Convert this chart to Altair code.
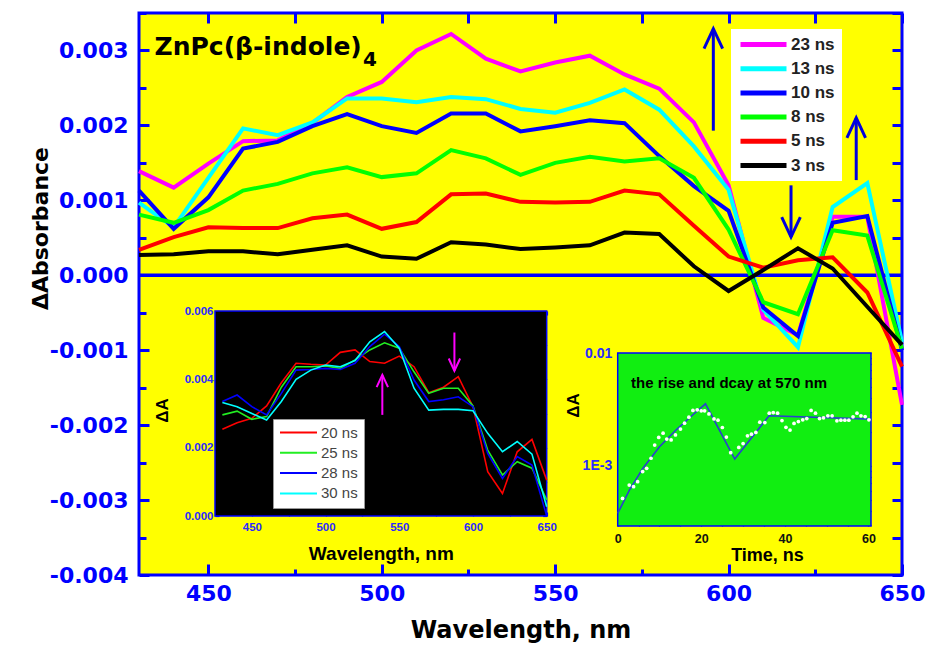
import altair as alt
import pandas as pd

# ---------------- main spectra: ΔAbsorbance vs wavelength ----------------
wavelength = [430, 440, 450, 460, 470, 480, 490, 500, 510, 520, 530, 540,
              550, 560, 570, 580, 590, 600, 610, 620, 630, 640, 650]
da_23ns = [1.39e-3, 1.17e-3, 1.49e-3, 1.79e-3, 1.80e-3, 2.03e-3, 2.38e-3, 2.58e-3, 3.00e-3, 3.22e-3, 2.89e-3, 2.72e-3,
           2.84e-3, 2.93e-3, 2.68e-3, 2.49e-3, 2.04e-3, 1.20e-3, -0.57e-3, -0.80e-3, 0.78e-3, 0.78e-3, -1.73e-3]
da_13ns = [0.97e-3, 0.64e-3, 1.30e-3, 1.96e-3, 1.87e-3, 2.04e-3, 2.36e-3, 2.36e-3, 2.31e-3, 2.38e-3, 2.35e-3, 2.22e-3,
           2.17e-3, 2.30e-3, 2.48e-3, 2.21e-3, 1.72e-3, 1.14e-3, -0.46e-3, -0.96e-3, 0.91e-3, 1.23e-3, -0.89e-3]
da_10ns = [1.13e-3, 0.62e-3, 1.04e-3, 1.69e-3, 1.78e-3, 1.99e-3, 2.15e-3, 1.99e-3, 1.90e-3, 2.16e-3, 2.16e-3, 1.92e-3,
           1.99e-3, 2.07e-3, 2.03e-3, 1.59e-3, 1.19e-3, 0.86e-3, -0.43e-3, -0.81e-3, 0.70e-3, 0.79e-3, -1.00e-3]
da_8ns = [0.81e-3, 0.70e-3, 0.87e-3, 1.13e-3, 1.22e-3, 1.36e-3, 1.44e-3, 1.31e-3, 1.36e-3, 1.67e-3, 1.56e-3, 1.34e-3,
          1.50e-3, 1.58e-3, 1.52e-3, 1.56e-3, 1.30e-3, 0.61e-3, -0.36e-3, -0.52e-3, 0.60e-3, 0.53e-3, -0.98e-3]
da_5ns = [0.34e-3, 0.51e-3, 0.64e-3, 0.63e-3, 0.63e-3, 0.76e-3, 0.81e-3, 0.62e-3, 0.71e-3, 1.08e-3, 1.09e-3, 0.98e-3,
          0.97e-3, 0.98e-3, 1.13e-3, 1.08e-3, 0.66e-3, 0.25e-3, 0.10e-3, 0.20e-3, 0.24e-3, -0.23e-3, -1.22e-3]
da_3ns = [0.27e-3, 0.28e-3, 0.32e-3, 0.32e-3, 0.28e-3, 0.34e-3, 0.40e-3, 0.25e-3, 0.22e-3, 0.44e-3, 0.41e-3, 0.35e-3,
          0.37e-3, 0.40e-3, 0.57e-3, 0.55e-3, 0.12e-3, -0.21e-3, 0.07e-3, 0.36e-3, 0.09e-3, -0.42e-3, -0.93e-3]
series_names = ['23 ns', '13 ns', '10 ns', '8 ns', '5 ns', '3 ns']
series_values = [da_23ns, da_13ns, da_10ns, da_8ns, da_5ns, da_3ns]
series_colors = ['#ff00ff', '#00ffff', '#0000ff', '#00ff00', '#ff0000', '#000000']

# arrows in the main panel
arrow_nm = [595.6, 618.0, 636.8]
arrow_tail = [1.93e-3, 1.20e-3, 1.27e-3]
arrow_head = [3.29e-3, 0.51e-3, 2.10e-3]
arrow_dir = ['up', 'down', 'up']

# ---------------- inset 1: later spectra ----------------
inset_wavelength = [430, 440, 450, 460, 470, 480, 490, 500, 510, 520, 530, 540,
                    550, 560, 570, 580, 590, 600, 610, 620, 630, 640, 650]
da_20ns = [2.54e-3, 2.73e-3, 2.86e-3, 3.22e-3, 3.90e-3, 4.47e-3, 4.44e-3, 4.42e-3, 4.79e-3, 4.86e-3, 4.52e-3, 4.47e-3,
           4.68e-3, 4.37e-3, 3.61e-3, 3.77e-3, 4.08e-3, 3.20e-3, 1.30e-3, 0.66e-3, 1.88e-3, 2.24e-3, 1.05e-3]
da_25ns = [2.96e-3, 3.07e-3, 2.83e-3, 2.91e-3, 3.77e-3, 4.37e-3, 4.37e-3, 4.39e-3, 4.32e-3, 4.57e-3, 4.86e-3, 5.07e-3,
           4.91e-3, 4.22e-3, 3.59e-3, 3.74e-3, 3.74e-3, 3.22e-3, 1.93e-3, 1.20e-3, 1.59e-3, 1.40e-3, 0.47e-3]
da_28ns = [3.35e-3, 3.54e-3, 3.20e-3, 2.96e-3, 3.59e-3, 4.27e-3, 4.29e-3, 4.32e-3, 4.29e-3, 4.47e-3, 4.96e-3, 5.32e-3,
           4.96e-3, 3.98e-3, 3.35e-3, 3.40e-3, 3.49e-3, 3.20e-3, 1.83e-3, 1.10e-3, 1.74e-3, 1.49e-3, 0.00e-3]
da_30ns = [3.32e-3, 3.20e-3, 3.00e-3, 2.81e-3, 3.35e-3, 4.00e-3, 4.27e-3, 4.42e-3, 4.37e-3, 4.55e-3, 5.10e-3, 5.40e-3,
           4.91e-3, 3.74e-3, 3.10e-3, 3.12e-3, 3.12e-3, 3.08e-3, 2.42e-3, 1.88e-3, 2.18e-3, 1.81e-3, 0.27e-3]
inset_names = ['20 ns', '25 ns', '28 ns', '30 ns']
inset_values = [da_20ns, da_25ns, da_28ns, da_30ns]
inset_colors = ['#ff0000', '#22ee22', '#0000ff', '#00ffff']
inset_arrow_nm = [538.5, 587.4]
inset_arrow_tail = [2.96e-3, 5.37e-3]
inset_arrow_head = [4.13e-3, 4.25e-3]
inset_arrow_dir = ['up', 'down']

# ---------------- inset 2: kinetics at 570 nm ----------------
fit_time = [0, 2.8, 6.0, 10.0, 14.0, 18.0, 21.0, 28.0, 36.2, 60.6]
fit_da = [3.8e-4, 6.1e-4, 9.5e-4, 1.48e-3, 2.09e-3, 2.84e-3, 3.55e-3, 1.15e-3, 2.78e-3, 2.60e-3]
pt_time = [1.16, 2.76, 3.8, 4.77, 5.97, 6.93, 7.97, 8.85, 9.82, 10.86, 11.74, 12.78, 13.82, 15.02, 15.99,
           17.03, 17.99, 19.03, 19.99, 20.79, 21.83, 23.04, 24.0, 25.04, 26.0, 27.04, 28.97, 30.0, 31.05,
           32.0, 33.05, 34.0, 35.2, 36.26, 37.22, 38.26, 39.3, 40.26, 41.23, 42.19, 43.23, 44.27, 45.23,
           46.27, 47.32, 48.28, 49.24, 50.28, 51.3, 52.44, 53.4, 54.35, 55.3, 56.3, 57.25, 58.2, 59.2, 60.1]
pt_da = [5.16e-4, 6.78e-4, 6.56e-4, 7.26e-4, 8.91e-4, 9.53e-4, 1.17e-3, 1.53e-3, 1.79e-3, 1.95e-3, 1.73e-3,
         1.70e-3, 1.88e-3, 2.12e-3, 2.39e-3, 2.70e-3, 3.10e-3, 3.14e-3, 3.08e-3, 3.08e-3, 2.89e-3, 2.61e-3,
         2.54e-3, 2.19e-3, 1.80e-3, 1.31e-3, 1.46e-3, 1.58e-3, 1.85e-3, 1.91e-3, 1.98e-3, 2.44e-3, 2.42e-3,
         2.93e-3, 2.97e-3, 2.93e-3, 2.52e-3, 2.20e-3, 2.08e-3, 2.38e-3, 2.47e-3, 2.56e-3, 2.63e-3, 3.10e-3,
         2.93e-3, 2.63e-3, 2.67e-3, 2.78e-3, 2.78e-3, 2.51e-3, 2.54e-3, 2.54e-3, 2.54e-3, 2.72e-3, 2.93e-3,
         2.78e-3, 2.74e-3, 2.56e-3]

# ---------------- tables ----------------
df_main = pd.DataFrame([{'nm': w, 'dA': v, 'series': n}
                        for n, vals in zip(series_names, series_values)
                        for w, v in zip(wavelength, vals)])
df_arrows = pd.DataFrame({'nm': arrow_nm, 'tail': arrow_tail, 'head': arrow_head, 'dir': arrow_dir})
df_title = pd.DataFrame({'nm': [434.5], 'dA': [2.933e-3], 'text': ['ZnPc(\u03b2-indole)']})
df_sub = pd.DataFrame({'nm': [494.6], 'dA': [2.79e-3], 'text': ['4']})

df_in1 = pd.DataFrame([{'nm': w, 'dA': v, 'series': n}
                       for n, vals in zip(inset_names, inset_values)
                       for w, v in zip(inset_wavelength, vals)])
df_in1_arrows = pd.DataFrame({'nm': inset_arrow_nm, 'tail': inset_arrow_tail,
                              'head': inset_arrow_head, 'dir': inset_arrow_dir})
df_box1 = pd.DataFrame({'x0': [425], 'x1': [650], 'y0': [0.0], 'y1': [0.006]})

df_fit = pd.DataFrame({'t': fit_time, 'dA': fit_da})
df_pts = pd.DataFrame({'t': pt_time, 'dA': pt_da})
df_box2 = pd.DataFrame({'x0': [0.0], 'x1': [60.6], 'y0': [2.94e-4], 'y1': [0.01]})
df_note = pd.DataFrame({'t': [3.2], 'dA': [5.45e-3], 'text': ['the rise and dcay at 570 nm']})

# ---------------- layout constants ----------------
BLUE = '#0000ff'
W, H = 763, 562
UP = 'M-1,2.15L0,0L1,2.15'
DOWN = 'M-1,-2.15L0,0L1,-2.15'
minus_fix = "replace(format(datum.value, '.3f'), '\u2212', '-')"


def ticks_only(orient, values, size, offset, color=BLUE, width=3):
    return alt.Axis(orient=orient, values=values, tickSize=size, offset=offset, tickWidth=width,
                    tickColor=color, labels=False, domain=False, grid=False, title=None)


# ================= main panel =================
xs_main = alt.Scale(domain=[430, 650], nice=False, zero=False)
ys_main = alt.Scale(domain=[-0.004, 0.0035], nice=False, zero=False)
x_major = [450, 500, 550, 600, 650]
x_minor = [475, 525, 575, 625]
x_all = [450, 475, 500, 525, 550, 575, 600, 625, 650]
y_major = [-0.004, -0.003, -0.002, -0.001, 0.0, 0.001, 0.002, 0.003]
y_minor = [-0.0035, -0.0025, -0.0015, -0.0005, 0.0005, 0.0015, 0.0025, 0.0035]
y_all = sorted(y_major + y_minor)

lines_main = alt.Chart(df_main).mark_line(strokeWidth=4).encode(
    x=alt.X('nm:Q', scale=xs_main, axis=alt.Axis(
        orient='bottom', values=x_major, tickSize=11, offset=-11, tickWidth=3, tickColor=BLUE,
        domain=False, grid=False, labelFlush=False, labelOverlap=False, labelPadding=8,
        labelFont='DejaVu Sans', labelFontWeight='bold', labelFontSize=22, labelColor=BLUE,
        title='Wavelength, nm', titleFont='DejaVu Sans', titleFontWeight='bold', titleFontSize=24,
        titleColor='black', titleY=66, titleBaseline='middle')),
    y=alt.Y('dA:Q', scale=ys_main, axis=alt.Axis(
        orient='left', values=y_major, tickSize=10, offset=-10, tickWidth=3, tickColor=BLUE,
        domain=False, grid=False, labelFlush=False, labelOverlap=False, labelPadding=11,
        labelExpr=minus_fix, labelFont='DejaVu Sans', labelFontWeight='bold', labelFontSize=22,
        labelColor=BLUE, title='\u0394Absorbance', titleFont='DejaVu Sans', titleFontWeight='bold',
        titleFontSize=22, titleColor='black', titleX=-109, titleY=215, titleBaseline='middle',
        titleAngle=270)),
    color=alt.Color('series:N', title=None,
                    scale=alt.Scale(domain=series_names, range=series_colors),
                    legend=alt.Legend(orient='none', legendX=592, legendY=16, fillColor='white',
                                      padding=7, symbolType='stroke', symbolSize=2116,
                                      symbolStrokeWidth=5, clipHeight=17, labelFont='Liberation Sans',
                                      labelFontWeight='bold', labelFontSize=17, labelColor='#222222',
                                      rowPadding=6.2, labelOffset=2)),
)

ghost_a = alt.Chart(df_main).mark_point(opacity=0).encode(
    x=alt.X('nm:Q', scale=xs_main, axis=ticks_only('bottom', x_minor, 6, -6)),
    y=alt.Y('dA:Q', scale=ys_main, axis=ticks_only('left', y_minor, 7, -7)),
)
ghost_b = alt.Chart(df_main).mark_point(opacity=0).encode(
    x=alt.X('nm:Q', scale=xs_main, axis=ticks_only('top', x_all, 10, -10)),
    y=alt.Y('dA:Q', scale=ys_main, axis=ticks_only('right', y_all, 10, -10)),
)

zero_line = alt.Chart(df_title).mark_rule(color=BLUE, strokeWidth=3.5).encode(
    y=alt.YDatum(0, scale=ys_main, axis=None))

shafts = alt.Chart(df_arrows).mark_rule(color='#0000dd', strokeWidth=3).encode(
    x=alt.X('nm:Q', scale=xs_main, axis=None),
    y=alt.Y('tail:Q', scale=ys_main, axis=None), y2='head:Q')
heads_up = alt.Chart(df_arrows).transform_filter("datum.dir == 'up'").mark_point(
    shape=UP, filled=False, size=346, strokeWidth=3, color='#0000dd', opacity=1).encode(
    x=alt.X('nm:Q', scale=xs_main, axis=None), y=alt.Y('head:Q', scale=ys_main, axis=None))
heads_down = alt.Chart(df_arrows).transform_filter("datum.dir == 'down'").mark_point(
    shape=DOWN, filled=False, size=346, strokeWidth=3, color='#0000dd', opacity=1).encode(
    x=alt.X('nm:Q', scale=xs_main, axis=None), y=alt.Y('head:Q', scale=ys_main, axis=None))

title_text = alt.Chart(df_title).mark_text(
    align='left', baseline='alphabetic', font='DejaVu Sans', fontWeight='bold', fontSize=25,
    color='black').encode(
    x=alt.X('nm:Q', scale=xs_main, axis=None), y=alt.Y('dA:Q', scale=ys_main, axis=None), text='text:N')
sub_text = alt.Chart(df_sub).mark_text(
    align='left', baseline='alphabetic', font='DejaVu Sans', fontWeight='bold', fontSize=20,
    color='black').encode(
    x=alt.X('nm:Q', scale=xs_main, axis=None), y=alt.Y('dA:Q', scale=ys_main, axis=None), text='text:N')

main = alt.layer(zero_line, lines_main, ghost_a, ghost_b, shafts, heads_up, heads_down,
                 title_text, sub_text).resolve_axis(x='independent', y='independent')

# ================= inset 1 =================
L1, R1, T1, B1 = 76, 407.7, 298, 503
xs_in1 = alt.Scale(domain=[425, 650], range=[L1, R1], nice=False, zero=False)
ys_in1 = alt.Scale(domain=[0, 0.006], range=[B1, T1], nice=False, zero=False)
in1_x = [450, 475, 500, 525, 550, 575, 600, 625, 650]
in1_y = [0.0, 0.001, 0.002, 0.003, 0.004, 0.005, 0.006]
TK1 = 4

box1 = alt.Chart(df_box1).mark_rect(fill='black', stroke=BLUE, strokeWidth=1.5).encode(
    x=alt.X('x0:Q', scale=xs_in1, axis=None), x2='x1:Q',
    y=alt.Y('y0:Q', scale=ys_in1, axis=None), y2='y1:Q')

lines_in1 = alt.Chart(df_in1).mark_line(strokeWidth=1.6).encode(
    x=alt.X('nm:Q', scale=xs_in1, axis=alt.Axis(
        orient='bottom', values=in1_x, tickSize=TK1, offset=B1 - TK1 - H, tickWidth=1.2, tickColor=BLUE,
        domain=False, grid=False, labelFlush=False, labelOverlap=False, labelPadding=5,
        labelExpr="datum.value % 50 == 0 ? datum.label : ''",
        labelFont='Liberation Sans', labelFontWeight='bold', labelFontSize=11.5, labelColor='#2a2aff',
        title='Wavelength, nm', titleFont='Liberation Sans', titleFontWeight='bold', titleFontSize=19,
        titleColor='black', titleY=41, titleBaseline='middle')),
    y=alt.Y('dA:Q', scale=ys_in1, axis=alt.Axis(
        orient='left', values=in1_y, tickSize=TK1, offset=-(L1 + TK1), tickWidth=1.2, tickColor=BLUE,
        domain=False, grid=False, labelFlush=False, labelOverlap=False, labelPadding=2,
        labelExpr="round(datum.value * 1000) % 2 == 0 ? format(datum.value, '.3f') : ''",
        labelFont='Liberation Sans', labelFontWeight='bold', labelFontSize=11.5, labelColor='#2a2aff',
        title='\u0394A', titleFont='Liberation Sans', titleFontWeight='bold', titleFontSize=17,
        titleColor='black', titleX=-57, titleY=397, titleBaseline='middle', titleAngle=270)),
    color=alt.Color('series:N', title=None,
                    scale=alt.Scale(domain=inset_names, range=inset_colors),
                    legend=alt.Legend(orient='none', legendX=134, legendY=406, fillColor='white',
                                      strokeColor='#999999', padding=6, symbolType='stroke',
                                      symbolSize=1369, symbolStrokeWidth=2, clipHeight=15,
                                      labelFont='Liberation Sans', labelFontSize=15,
                                      labelColor='#444444', rowPadding=4.3, labelOffset=3)),
)
ghost_in1 = alt.Chart(df_in1).mark_point(opacity=0).encode(
    x=alt.X('nm:Q', scale=xs_in1, axis=ticks_only('top', in1_x, TK1, -(T1 + TK1), width=1.2)),
    y=alt.Y('dA:Q', scale=ys_in1, axis=ticks_only('right', in1_y, TK1, R1 - TK1 - W, width=1.2)),
)
shafts1 = alt.Chart(df_in1_arrows).mark_rule(color='#ff00ff', strokeWidth=2).encode(
    x=alt.X('nm:Q', scale=xs_in1, axis=None),
    y=alt.Y('tail:Q', scale=ys_in1, axis=None), y2='head:Q')
heads1_up = alt.Chart(df_in1_arrows).transform_filter("datum.dir == 'up'").mark_point(
    shape=UP, filled=False, size=130, strokeWidth=2, color='#ff00ff', opacity=1).encode(
    x=alt.X('nm:Q', scale=xs_in1, axis=None), y=alt.Y('head:Q', scale=ys_in1, axis=None))
heads1_down = alt.Chart(df_in1_arrows).transform_filter("datum.dir == 'down'").mark_point(
    shape=DOWN, filled=False, size=130, strokeWidth=2, color='#ff00ff', opacity=1).encode(
    x=alt.X('nm:Q', scale=xs_in1, axis=None), y=alt.Y('head:Q', scale=ys_in1, axis=None))

inset1 = alt.layer(box1, lines_in1, ghost_in1, shafts1, heads1_up, heads1_down).resolve_axis(
    x='independent', y='independent')

# ================= inset 2 =================
L2, R2, T2, B2 = 478.7, 732, 340, 513
xs_in2 = alt.Scale(domain=[0, 60.6], range=[L2, R2], nice=False, zero=False)
ys_in2 = alt.Scale(type='log', domain=[2.94e-4, 0.01], range=[B2, T2], nice=False)
in2_x = [0, 5, 10, 15, 20, 25, 30, 35, 40, 45, 50, 55, 60]
in2_y = [3e-4, 4e-4, 5e-4, 6e-4, 7e-4, 8e-4, 9e-4, 1e-3, 2e-3, 3e-3, 4e-3, 5e-3, 6e-3, 7e-3, 8e-3,
         9e-3, 1e-2]
TK2 = 3

box2 = alt.Chart(df_box2).mark_rect(fill='#11ee11', stroke=BLUE, strokeWidth=1.5).encode(
    x=alt.X('x0:Q', scale=xs_in2, axis=None), x2='x1:Q',
    y=alt.Y('y0:Q', scale=ys_in2, axis=None), y2='y1:Q')

pts2 = alt.Chart(df_pts).mark_circle(color='white', size=14, opacity=1).encode(
    x=alt.X('t:Q', scale=xs_in2, axis=alt.Axis(
        orient='bottom', values=in2_x, tickSize=TK2, offset=B2 - TK2 - H, tickWidth=1.2, tickColor=BLUE,
        domain=False, grid=False, labelFlush=False, labelOverlap=False, labelPadding=6,
        labelExpr="datum.value % 20 == 0 ? datum.label : ''",
        labelFont='Liberation Sans', labelFontWeight='bold', labelFontSize=12.5, labelColor='#111111',
        title='Time, ns', titleFont='Liberation Sans', titleFontWeight='bold', titleFontSize=18,
        titleColor='black', titleX=628, titleY=32, titleBaseline='middle')),
    y=alt.Y('dA:Q', scale=ys_in2, axis=alt.Axis(
        orient='left', values=in2_y, tickSize=TK2, offset=-(L2 + TK2), tickWidth=1.2, tickColor=BLUE,
        domain=False, grid=False, labelFlush=False, labelOverlap=False, labelPadding=6,
        labelExpr="abs(datum.value - 0.01) < 1e-9 ? '0.01' : (abs(datum.value - 0.001) < 1e-9 ? '1E-3' : '')",
        labelFont='Liberation Sans', labelFontWeight='bold', labelFontSize=14, labelColor='#2a2aff',
        title='\u0394A', titleFont='Liberation Sans', titleFontWeight='bold', titleFontSize=17,
        titleColor='black', titleX=-47, titleY=392, titleBaseline='middle', titleAngle=270)),
)
fit2 = alt.Chart(df_fit).mark_line(color='#2b3fd0', strokeWidth=1.6).encode(
    x=alt.X('t:Q', scale=xs_in2, axis=None), y=alt.Y('dA:Q', scale=ys_in2, axis=None))
ghost_in2 = alt.Chart(df_pts).mark_point(opacity=0).encode(
    x=alt.X('t:Q', scale=xs_in2, axis=ticks_only('top', in2_x, TK2, -(T2 + TK2), width=1.2)),
    y=alt.Y('dA:Q', scale=ys_in2, axis=ticks_only('right', in2_y, TK2, R2 - TK2 - W, width=1.2)),
)
note2 = alt.Chart(df_note).mark_text(
    align='left', baseline='middle', font='Liberation Sans', fontWeight='bold', fontSize=15,
    color='black').encode(
    x=alt.X('t:Q', scale=xs_in2, axis=None), y=alt.Y('dA:Q', scale=ys_in2, axis=None), text='text:N')

inset2 = alt.layer(box2, fit2, pts2, ghost_in2, note2).resolve_axis(x='independent', y='independent')

# ================= assemble =================
chart = alt.layer(main, inset1, inset2).resolve_scale(
    x='independent', y='independent', color='independent'
).properties(
    width=W, height=H,
    autosize=alt.AutoSizeParams(type='none'),
    padding={'left': 139, 'top': 13, 'right': 23, 'bottom': 71},
    background='white',
).configure_view(fill='#ffff00', stroke=BLUE, strokeWidth=3)

chart.save('out.html', embed_options={'renderer': 'svg', 'actions': False})
